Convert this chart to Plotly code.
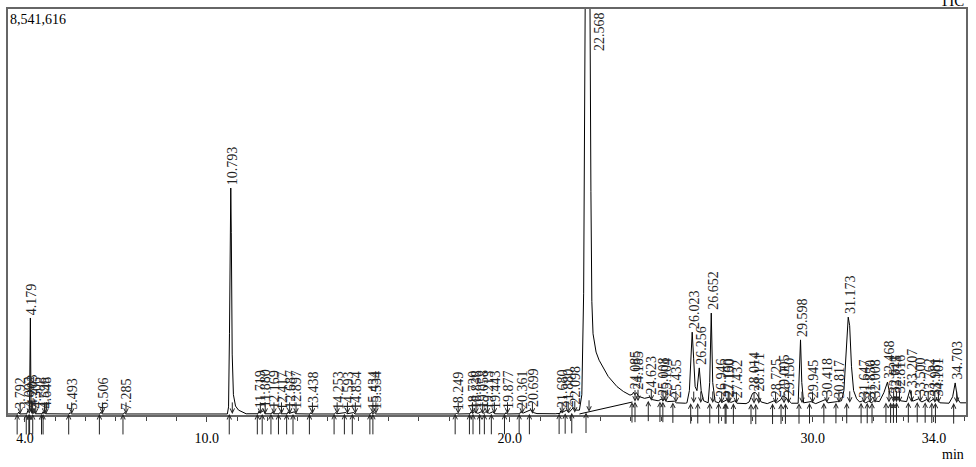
import numpy as np
import plotly.graph_objects as go

# ---- data (signal in % of full scale) ----
FULL_SCALE_LABEL = "8,541,616"

rt = [3.44, 3.76, 3.792, 3.83, 4.06, 4.092, 4.15, 4.179, 4.20, 4.203, 4.24, 4.28, 4.306, 4.34,
      4.57, 4.596, 4.62, 4.648, 4.68, 5.46, 5.493, 5.53, 6.47, 6.506, 6.55, 7.25, 7.285, 7.32,
      10.68, 10.72, 10.75, 10.77, 10.793, 10.81, 10.84, 10.88, 10.95, 11.05, 11.2, 11.3,
      11.69, 11.719, 11.75, 11.88, 11.92, 12.14, 12.169, 12.2, 12.39, 12.417, 12.45,
      12.66, 12.687, 12.72, 12.897, 12.93, 13.41, 13.438, 13.47,
      14.22, 14.253, 14.29, 14.593, 14.63, 14.854, 14.89, 15.40, 15.434, 15.48, 15.534, 15.57,
      18.22, 18.249, 18.28, 18.69, 18.72, 18.78, 18.838, 18.95, 19.058, 19.15, 19.213, 19.33,
      19.443, 19.5, 19.85, 19.877, 19.91, 20.33, 20.361, 20.45, 20.6, 20.699, 20.78, 20.9, 21.5,
      21.66, 21.68, 21.72, 21.88, 21.95, 22.098, 22.2, 22.30, 22.38, 22.44, 22.49, 22.568,
      22.65, 22.68, 22.71, 22.75, 22.85, 22.95, 23.08, 23.25, 23.54, 23.75, 23.97,
      24.05, 24.085, 24.13, 24.185, 24.25, 24.45, 24.623, 24.7, 24.9, 25.008, 25.05, 25.104,
      25.2, 25.435, 25.5, 25.8, 25.85, 25.93, 25.98, 26.023, 26.07, 26.12, 26.18, 26.256,
      26.32, 26.40, 26.55, 26.60, 26.652, 26.70, 26.78, 26.9, 26.946, 27.0, 27.16, 27.19,
      27.3, 27.432, 27.5, 27.8, 27.9, 28.014, 28.10, 28.171, 28.3, 28.5, 28.725, 28.8, 28.95,
      29.005, 29.08, 29.15, 29.3, 29.52, 29.56, 29.598, 29.64, 29.70, 29.945, 30.1, 30.418,
      30.5, 30.817, 30.95, 31.03, 31.10, 31.173, 31.22, 31.28, 31.35, 31.45, 31.55, 31.647,
      31.75, 31.85, 31.95, 32.008, 32.2, 32.35, 32.468, 32.55, 32.621, 32.68, 32.715, 32.76,
      32.816, 32.9, 33.1, 33.207, 33.3, 33.5, 33.6, 33.762, 33.85, 33.981, 34.05, 34.101,
      34.2, 34.5, 34.62, 34.703, 34.78, 34.87, 35.06]

signal = [0.25, 0.25, 0.7, 0.25, 0.3, 1.0, 1.5, 23.9, 2.0, 1.5, 0.5, 0.4, 0.9, 0.3,
          0.3, 0.8, 0.4, 0.8, 0.3, 0.25, 0.6, 0.25, 0.25, 0.7, 0.25, 0.25, 0.6, 0.25,
          0.25, 2.0, 20.0, 45.0, 55.9, 45.0, 15.0, 5.0, 2.2, 1.2, 0.6, 0.3,
          0.3, 0.9, 0.5, 1.1, 0.3, 0.3, 0.8, 0.3, 0.3, 0.6, 0.3,
          0.3, 0.8, 0.4, 0.8, 0.3, 0.25, 0.6, 0.25,
          0.25, 0.6, 0.3, 0.6, 0.3, 0.6, 0.25, 0.25, 0.6, 0.3, 0.6, 0.25,
          0.25, 0.5, 0.25, 0.3, 0.8, 0.4, 0.8, 0.4, 0.8, 0.4, 0.8, 0.4,
          0.8, 0.3, 0.25, 0.6, 0.25, 0.3, 0.8, 0.5, 0.9, 1.3, 0.6, 0.35, 0.3,
          0.4, 1.0, 0.6, 1.2, 0.6, 1.8, 1.2, 1.2, 5.0, 30.0, 100.0, 125.0,
          100.0, 55.0, 28.0, 20.0, 15.5, 13.5, 11.9, 9.5, 7.0, 5.8, 4.9,
          5.1, 5.6, 5.0, 5.5, 4.6, 4.1, 4.4, 3.8, 3.5, 3.9, 3.5, 3.8,
          3.3, 3.4, 3.0, 2.9, 3.0, 6.0, 14.0, 20.4, 14.0, 7.0, 6.0, 11.6,
          6.0, 3.5, 3.0, 8.0, 25.1, 8.0, 3.3, 3.0, 3.6, 3.1, 3.7, 3.7,
          3.1, 3.5, 2.9, 2.8, 3.2, 5.3, 5.6, 5.0, 3.2, 2.8, 3.5, 3.0, 3.8,
          4.7, 4.5, 4.0, 2.9, 2.9, 10.0, 18.5, 8.0, 3.0, 3.3, 2.8, 3.8,
          3.0, 3.3, 3.5, 6.0, 15.0, 24.1, 22.0, 12.0, 6.0, 4.0, 3.2, 3.5,
          3.0, 3.4, 3.0, 3.5, 3.3, 5.5, 8.1, 5.0, 4.5, 4.0, 4.6, 4.0,
          4.5, 3.5, 3.3, 6.2, 3.4, 4.0, 3.2, 3.8, 3.2, 3.9, 3.4, 3.9,
          3.0, 2.9, 4.5, 7.9, 4.0, 3.0, 3.0]

peak_labels = ["3.792", "4.092", "4.179", "4.203", "4.306", "4.596", "4.648", "5.493",
               "6.506", "7.285", "10.793", "11.719", "11.880", "12.169", "12.417", "12.687",
               "12.897", "13.438", "14.253", "14.593", "14.854", "15.434", "15.534",
               "18.249", "18.720", "18.838", "19.058", "19.213", "19.443", "19.877",
               "20.361", "20.699", "21.680", "21.880", "22.098", "22.568", "24.085",
               "24.185", "24.623", "25.008", "25.104", "25.435", "26.023", "26.256",
               "26.652", "26.946", "27.160", "27.190", "27.432", "28.014", "28.171",
               "28.725", "29.005", "29.150", "29.598", "29.945", "30.418", "30.817",
               "31.173", "31.647", "31.850", "32.008", "32.468", "32.621", "32.715",
               "32.816", "33.207", "33.500", "33.762", "33.981", "34.101", "34.703"]

# integration baseline level (where the start/end markers sit)
level_rt = [3.44, 21.5, 22.2, 22.30, 24.05, 24.45, 25.2, 25.8, 26.5, 27.8, 28.5, 29.5,
            30.5, 31.75, 33.5, 34.5, 35.06]
level_signal = [0.25, 0.3, 0.6, 0.25, 3.2, 3.6, 3.2, 2.9, 3.0, 2.8, 2.8, 2.9,
                3.0, 3.0, 3.2, 2.9, 3.0]

base_rt = [22.30, 24.05]       # drawn integration baseline under the main peak
base_signal = [0.25, 3.2]

tick_vals = [4.0, 10.0, 20.0, 30.0, 34.0]
tick_text = ["4.0", "10.0", "20.0", "30.0", "34.0"]

# ---- figure ----
FONT = "Liberation Serif"
rt_arr = np.array(rt)
sig_arr = np.array(signal)

fig = go.Figure()
fig.add_trace(go.Scatter(x=rt, y=signal, mode="lines",
                         line=dict(color="black", width=1), hoverinfo="skip"))
fig.add_trace(go.Scatter(x=base_rt, y=base_signal, mode="lines",
                         line=dict(color="black", width=1), hoverinfo="skip"))

ann = []
for lab in peak_labels:
    t = float(lab)
    h = float(np.interp(t, rt_arr, sig_arr))
    if h > 100:
        ann.append(dict(x=t, y=100, text=lab, textangle=-90, showarrow=False,
                        xanchor="center", yanchor="top", xshift=12, yshift=-1,
                        font=dict(family=FONT, size=14, color="#222")))
    else:
        ann.append(dict(x=t, y=h, text=lab, textangle=-90, showarrow=False,
                        xanchor="center", yanchor="bottom", xshift=2, yshift=1,
                        font=dict(family=FONT, size=14, color="#222")))
    for dt, dy in ((-0.05, 22), (0.05, -13)):
        tm = t + dt
        b = float(np.interp(tm, level_rt, level_signal))
        ann.append(dict(x=tm, y=b, ax=0, ay=dy, text="", showarrow=True,
                        arrowhead=5, arrowsize=0.9, arrowwidth=1, arrowcolor="#222"))

ann.append(dict(xref="paper", yref="paper", x=0.0, y=1.0, text=FULL_SCALE_LABEL,
                showarrow=False, xanchor="left", yanchor="top", yshift=-1,
                font=dict(family=FONT, size=14, color="black")))
ann.append(dict(xref="paper", yref="paper", x=1.0, y=1.0, text="TIC",
                showarrow=False, xanchor="right", yanchor="bottom", yshift=-2,
                font=dict(family=FONT, size=15, color="black")))
ann.append(dict(xref="paper", yref="paper", x=1.0, y=0.0, text="min",
                showarrow=False, xanchor="right", yanchor="top", yshift=-30,
                font=dict(family=FONT, size=14, color="black")))

fig.update_layout(
    width=976, height=467,
    margin=dict(l=8, r=10, t=9, b=52),
    paper_bgcolor="white", plot_bgcolor="white",
    showlegend=False,
    annotations=ann,
    font=dict(family=FONT, color="black"),
    xaxis=dict(range=[3.44, 35.06], tickvals=tick_vals, ticktext=tick_text,
               ticks="outside", ticklen=5, tickcolor="#444", tickwidth=1,
               ticklabelstandoff=4,
               minor=dict(dtick=1, ticks="outside", ticklen=4, tickcolor="#444"),
               showline=True, linecolor="#666", linewidth=2, mirror=True,
               showgrid=False, zeroline=False,
               tickfont=dict(family=FONT, size=14, color="black")),
    yaxis=dict(range=[0, 100], showticklabels=False, ticks="",
               showline=True, linecolor="#666", linewidth=2, mirror=True,
               showgrid=False, zeroline=False),
)

fig.write_html("out.html", config={"displayModeBar": False},
               post_script="document.body.style.margin='0px';document.body.style.overflow='hidden';")
